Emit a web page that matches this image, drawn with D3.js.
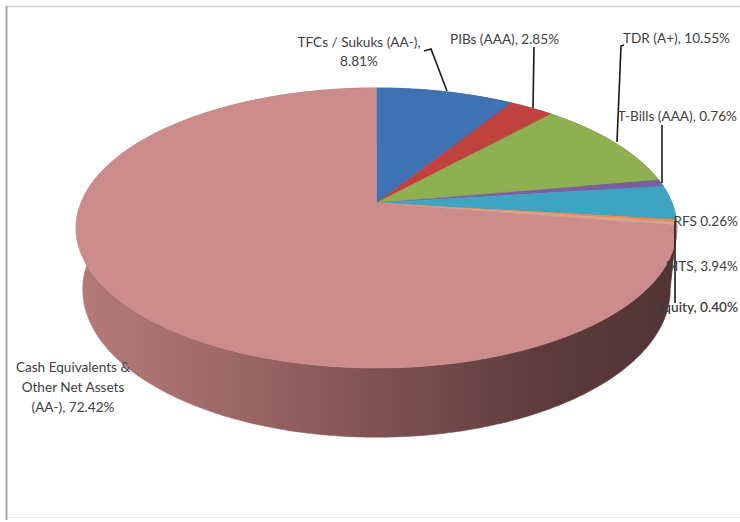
<!DOCTYPE html>
<html><head><meta charset="utf-8">
<script src="https://cdn.jsdelivr.net/npm/d3@7"></script>
<style>html,body{margin:0;padding:0;background:#fff;}svg{display:block;}</style>
</head><body>
<svg id="chart" width="740" height="522"></svg>
<script>
// ---- data ----
const categories = ["TFCs / Sukuks (AA-)", "PIBs (AAA)", "TDR (A+)", "T-Bills (AAA)", "MTS", "RFS", "Equity", "Cash Equivalents & Other Net Assets (AA-)"];
const values = [8.81, 2.85, 10.55, 0.76, 3.94, 0.26, 0.40, 72.42];
const colors = ["#3f72b2", "#c0423f", "#8fb050", "#7a5fa0", "#3fa3c2", "#f08a3c", "#d9a08e", "#cd8c8c"];
const sideColors = ["#2c5080", "#8a2e2c", "#647c38", "#554270", "#2c7289", "#a8602a", "#9a6e60", null];

// label text lines (built from categories and values)
const fmt = v => v.toFixed(2) + "%";
const labelLines = [
  [categories[0] + ",", fmt(values[0])],
  [categories[1] + ", " + fmt(values[1])],
  [categories[2] + ", " + fmt(values[2])],
  [categories[3] + ", " + fmt(values[3])],
  [categories[4] + ", " + fmt(values[4])],
  [categories[5] + " " + fmt(values[5])],
  [categories[6] + ", " + fmt(values[6])],
  ["Cash Equivalents &", "Other Net Assets", "(AA-), " + fmt(values[7])]
];
// label layout
const labelPos = [
  {x: 359, y: 47, anchor: "middle", dy: 19},
  {x: 450, y: 44, anchor: "start"},
  {x: 623, y: 43, anchor: "start"},
  {x: 737, y: 121, anchor: "end"},
  {x: 738, y: 271, anchor: "end"},
  {x: 738, y: 226, anchor: "end"},
  {x: 738, y: 312, anchor: "end", weight: 600},
  {x: 73, y: 372, anchor: "middle", dy: 20}
];
const leaders = [
  [[424, 51], [431, 49], [447, 91]],
  [[534, 47], [533, 108]],
  [[624, 45], [621, 46], [617, 142]],
  [[662, 125], [662, 183]],
  null,
  null,
  [[675, 221], [675, 303]],
  null
];

// ---- 3D projection ----
const alpha = 27.3 * Math.PI / 180, ca = Math.cos(alpha), sa = Math.sin(alpha);
const S = 1472, D = 4.98, cx = 376.5, cy = 203, H = 0.236;
function proj(theta, Y) {
  const X = Math.sin(theta), Z = -Math.cos(theta);
  const v = Y * ca - Z * sa, d = Z * ca + Y * sa;
  const k = S / (D - d);
  return [cx + X * k, cy - v * k];
}
function centerProj(Y) {
  const v = Y * ca, d = Y * sa, k = S / (D - d);
  return [cx, cy - v * k];
}
function arcPts(a0, a1, Y) {
  const n = Math.max(2, Math.ceil((a1 - a0) / 0.01));
  const pts = [];
  for (let i = 0; i <= n; i++) pts.push(proj(a0 + (a1 - a0) * i / n, Y));
  return pts;
}

const svg = d3.select("#chart");
const defs = svg.append("defs");
const grad = defs.append("linearGradient").attr("id", "sideGrad")
  .attr("gradientUnits", "userSpaceOnUse").attr("x1", 78).attr("x2", 675).attr("y1", 0).attr("y2", 0);
[[0, "#b47a7a"], [0.2, "#a46c6c"], [0.5, "#7f5252"], [0.8, "#5c3a3a"], [1, "#533434"]]
  .forEach(([o, c]) => grad.append("stop").attr("offset", o).attr("stop-color", c));

// frame
svg.append("line").attr("x1", 6).attr("x2", 740).attr("y1", 6.5).attr("y2", 6.5).attr("stroke", "#d4d4d4").attr("stroke-width", 1.5);
svg.append("line").attr("x1", 6).attr("x2", 740).attr("y1", 517.5).attr("y2", 517.5).attr("stroke", "#ececec").attr("stroke-width", 1);
svg.append("line").attr("x1", 6.5).attr("x2", 6.5).attr("y1", 6).attr("y2", 520).attr("stroke", "#a8a8a8").attr("stroke-width", 2);

const pie = d3.pie().sort(null).value(d => d)(values);
const line = d3.line();

// sides
const gSide = svg.append("g");
pie.forEach((p, i) => {
  const top = arcPts(p.startAngle, p.endAngle, 0);
  const bot = arcPts(p.startAngle, p.endAngle, -H).reverse();
  gSide.append("path").attr("d", line(top.concat(bot)) + "Z")
    .attr("fill", sideColors[i] || "url(#sideGrad)")
    .attr("stroke", sideColors[i] || "url(#sideGrad)").attr("stroke-width", 0.5);
});

// top faces
const gTop = svg.append("g");
const c0 = centerProj(0);
pie.forEach((p, i) => {
  const pts = [c0].concat(arcPts(p.startAngle, p.endAngle, 0));
  gTop.append("path").attr("d", line(pts) + "Z")
    .attr("fill", colors[i]).attr("stroke", colors[i]).attr("stroke-width", 0.5);
});

// leaders
leaders.forEach(l => {
  if (!l) return;
  svg.append("path").attr("d", line(l)).attr("fill", "none")
    .attr("stroke", "#1a1a1a").attr("stroke-width", 1.6);
});

// labels
const gLab = svg.append("g").attr("font-family", "Lato, 'Open Sans', sans-serif")
  .attr("font-size", 13.6).attr("fill", "#404040");
labelLines.forEach((lines, i) => {
  const lp = labelPos[i];
  const t = gLab.append("text").attr("text-anchor", lp.anchor)
    .attr("font-weight", lp.weight || 400);
  lines.forEach((s, j) => {
    t.append("tspan").attr("x", lp.x).attr("y", lp.y + j * (lp.dy || 0)).text(s);
  });
});
</script>
</body></html>
